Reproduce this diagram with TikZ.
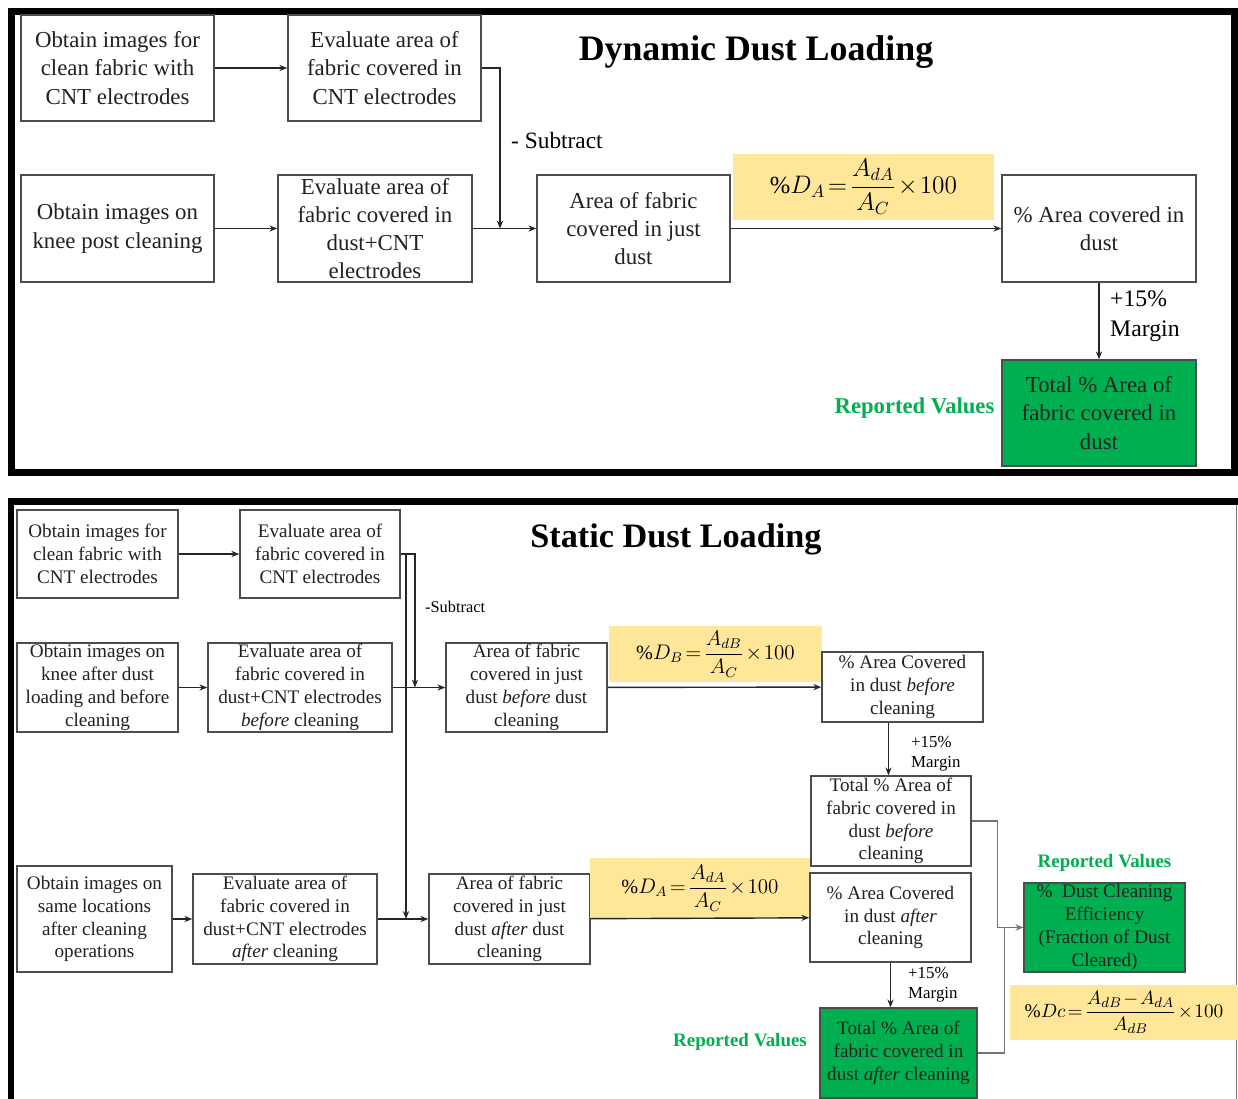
\documentclass[tikz,border=0pt]{standalone}
\usepackage{amsmath}
\usepackage{fontspec}
\setmainfont{Liberation Serif}
\usetikzlibrary{arrows.meta}

\definecolor{reportgreen}{rgb}{0.0,0.69,0.314}
\definecolor{formulayellow}{rgb}{1.0,0.902,0.6}
\definecolor{boxline}{rgb}{0.3,0.3,0.3}
\definecolor{boxink}{rgb}{0.13,0.13,0.13}
\definecolor{linkgray}{rgb}{0.45,0.45,0.45}

\tikzset{
  flowbox/.style={draw=boxline,line width=0.8pt,align=center,inner sep=0pt,text=boxink},
  bigtext/.style={font=\rmfamily\fontsize{13}{16}\selectfont},
  smalltext/.style={font=\rmfamily\fontsize{10.9}{13}\selectfont},
  reportbox/.style={flowbox,fill=reportgreen},
  formula/.style={fill=formulayellow,inner sep=0pt,execute at begin node={\thickmuskip=2mu\medmuskip=1.5mu}},
  greenlabel/.style={text=reportgreen,font=\rmfamily\bfseries\fontsize{10.8}{13}\selectfont},
  link/.style={draw=black!85,line width=0.8pt,-{Stealth[length=4.5pt,width=3.5pt]}},
}

\begin{document}
\begin{tikzpicture}[x=0.02cm,y=-0.02cm]
\useasboundingbox (0,0) rectangle (1238,1099);
\fill[white] (0,0) rectangle (1238,1099);

% dynamic loading panel
\draw[line width=0.14cm] (11.5,11.5) rectangle (1234.5,472.5);
\node[font=\rmfamily\bfseries\fontsize{20.4}{24}\selectfont] (dyntitle) at (756,52) {Dynamic Dust Loading};

\node[flowbox,bigtext,minimum width=3.86cm,minimum height=2.12cm] (dynclean) at (117.5,68) {Obtain images for\\clean fabric with\\CNT electrodes};
\node[flowbox,bigtext,minimum width=3.86cm,minimum height=2.12cm] (dyncnt) at (384.5,68) {Evaluate area of\\fabric covered in\\CNT electrodes};
\node[flowbox,bigtext,minimum width=3.86cm,minimum height=2.14cm] (dynknee) at (117.5,228.5) {Obtain images on\\knee post cleaning};
\node[flowbox,bigtext,minimum width=3.88cm,minimum height=2.14cm] (dyndustcnt) at (375,228.5) {Evaluate area of\\fabric covered in\\dust+CNT\\electrodes};
\node[flowbox,bigtext,minimum width=3.86cm,minimum height=2.14cm] (dynjust) at (633.5,228.5) {Area of fabric\\covered in just\\dust};
\node[flowbox,bigtext,minimum width=3.88cm,minimum height=2.14cm] (dynpct) at (1099,228.5) {\% Area covered in\\dust};
\node[reportbox,bigtext,minimum width=3.88cm,minimum height=2.12cm] (dyntotal) at (1099,413) {Total \% Area of\\fabric covered in\\dust};
\node[formula,minimum width=5.22cm,minimum height=1.32cm,font=\fontsize{14}{16}\selectfont] (dynformula) at (863.5,187) {$\%D_A=\dfrac{A_{dA}}{A_C}\times 100$};

\node[text=reportgreen,font=\rmfamily\bfseries\fontsize{12.9}{15}\selectfont] (dynreported) at (914.5,408) {Reported Values};
\node[anchor=west,align=left,font=\rmfamily\fontsize{13.5}{17}\selectfont] (dynmargin) at (1104,316) {+15\%\\Margin};
\node[anchor=west,font=\rmfamily\fontsize{13.3}{16}\selectfont] (dynsubtract) at (505,141) {- Subtract};

\coordinate (dynjoin) at (500,228.5);
\draw[link] (dynclean) -- (dyncnt);
\draw[link] (dyncnt.east) -| (dynjoin);
\draw[link] (dynknee) -- (dyndustcnt);
\draw[link] (dyndustcnt) -- (dynjust);
\draw[link] (dynjust) -- (dynpct);
\draw[link] (dynpct) -- (dyntotal);

% static loading panel
\draw[line width=0.14cm] (11,1099) -- (11,501) -- (1238,501);
\draw[linkgray,line width=0.5pt] (1236,505) -- (1236,1099);
\node[font=\rmfamily\bfseries\fontsize{19.5}{23}\selectfont] (sttitle) at (676,539) {Static Dust Loading};

\node[flowbox,smalltext,minimum width=3.22cm,minimum height=1.76cm] (stclean) at (97.5,554) {Obtain images for\\clean fabric with\\CNT electrodes};
\node[flowbox,smalltext,minimum width=3.2cm,minimum height=1.76cm] (stcnt) at (320,554) {Evaluate area of\\fabric covered in\\CNT electrodes};

\node[flowbox,smalltext,minimum width=3.22cm,minimum height=1.78cm] (stknee) at (97.5,687.5) {Obtain images on\\knee after dust\\loading and before\\cleaning};
\node[flowbox,smalltext,minimum width=3.68cm,minimum height=1.78cm] (stbeforecnt) at (300,687.5) {Evaluate area of\\fabric covered in\\dust+CNT electrodes\\\emph{before} cleaning};
\node[flowbox,smalltext,minimum width=3.22cm,minimum height=1.78cm] (stbeforejust) at (526.5,687.5) {Area of fabric\\covered in just\\dust \emph{before} dust\\cleaning};
\node[formula,minimum width=4.26cm,minimum height=1.12cm,font=\fontsize{11.5}{14}\selectfont] (stformulab) at (715.5,654) {$\%D_B=\dfrac{A_{dB}}{A_C}\times 100$};
\node[flowbox,smalltext,minimum width=3.22cm,minimum height=1.4cm] (stbeforepct) at (902.5,687) {\% Area Covered\\in dust \emph{before}\\cleaning};
\node[flowbox,smalltext,minimum width=3.2cm,minimum height=1.8cm] (stbeforetotal) at (891,821) {Total \% Area of\\fabric covered in\\dust \emph{before}\\cleaning};

\node[flowbox,smalltext,minimum width=3.1cm,minimum height=2.12cm] (stsame) at (94.5,919) {Obtain images on\\same locations\\after cleaning\\operations};
\node[flowbox,smalltext,minimum width=3.68cm,minimum height=1.8cm] (staftercnt) at (285,919) {Evaluate area of\\fabric covered in\\dust+CNT electrodes\\\emph{after} cleaning};
\node[flowbox,smalltext,minimum width=3.22cm,minimum height=1.8cm] (stafterjust) at (509.5,919) {Area of fabric\\covered in just\\dust \emph{after} dust\\cleaning};
\node[formula,minimum width=4.4cm,minimum height=1.2cm,font=\fontsize{11.5}{14}\selectfont] (stformulaa) at (700,888) {$\%D_A=\dfrac{A_{dA}}{A_C}\times 100$};
\node[flowbox,smalltext,minimum width=3.22cm,minimum height=1.78cm] (stafterpct) at (890.5,917.5) {\% Area Covered\\in dust \emph{after}\\cleaning};
\node[reportbox,smalltext,minimum width=3.14cm,minimum height=1.8cm] (staftertotal) at (898.5,1053) {Total \% Area of\\fabric covered in\\dust \emph{after} cleaning};

\node[reportbox,smalltext,minimum width=3.22cm,minimum height=1.78cm] (stefficiency) at (1104.5,927.5) {\%~ Dust Cleaning\\Efficiency\\(Fraction of Dust\\Cleared)};
\node[formula,minimum width=4.56cm,minimum height=1.1cm,font=\fontsize{11}{13}\selectfont] (stformulac) at (1124,1012.5) {$\%Dc=\dfrac{A_{dB}-A_{dA}}{A_{dB}}\times 100$};

\node[greenlabel] (streportbefore) at (1104.5,863) {Reported Values};
\node[greenlabel] (streportafter) at (740,1042) {Reported Values};
\node[anchor=west,align=left,font=\rmfamily\fontsize{9.6}{11.5}\selectfont] (stmarginb) at (905,754) {+15\%\\Margin};
\node[anchor=west,align=left,font=\rmfamily\fontsize{9.6}{11.5}\selectfont] (stmargina) at (902,985) {+15\%\\Margin};
\node[anchor=west,font=\rmfamily\fontsize{9.3}{11}\selectfont] (stsubtract) at (419,607) {-Subtract};

\coordinate (stjoin) at (415,687.5);
\coordinate (stsplit) at (406,554);
\draw[link] (stclean) -- (stcnt);
\draw[link] (stcnt.east) -| (stjoin);
\draw[link] (stsplit) -- (stsplit |- staftercnt.east);
\draw[link] (stknee) -- (stbeforecnt);
\draw[link] (stbeforecnt) -- (stbeforejust);
\draw[link] (stbeforejust) -- (stbeforepct);
\draw[link] ([xshift=-0.28cm]stbeforepct.south) -- ([xshift=-0.28cm]stbeforepct.south |- stbeforetotal.north);
\draw[link] (stsame) -- (staftercnt);
\draw[link] (staftercnt) -- (stafterjust);
\draw[link] (stafterjust) -- (stafterpct);
\draw[link] (stafterpct.south) -- (stafterpct.south |- staftertotal.north);
\draw[link,draw=linkgray,line width=0.6pt] (stbeforetotal.east) -- ++(26,0) |- (stefficiency.west);
\draw[linkgray,line width=0.6pt] (staftertotal.east) -- ++(27,0) |- (stefficiency.west);
\end{tikzpicture}
\end{document}
